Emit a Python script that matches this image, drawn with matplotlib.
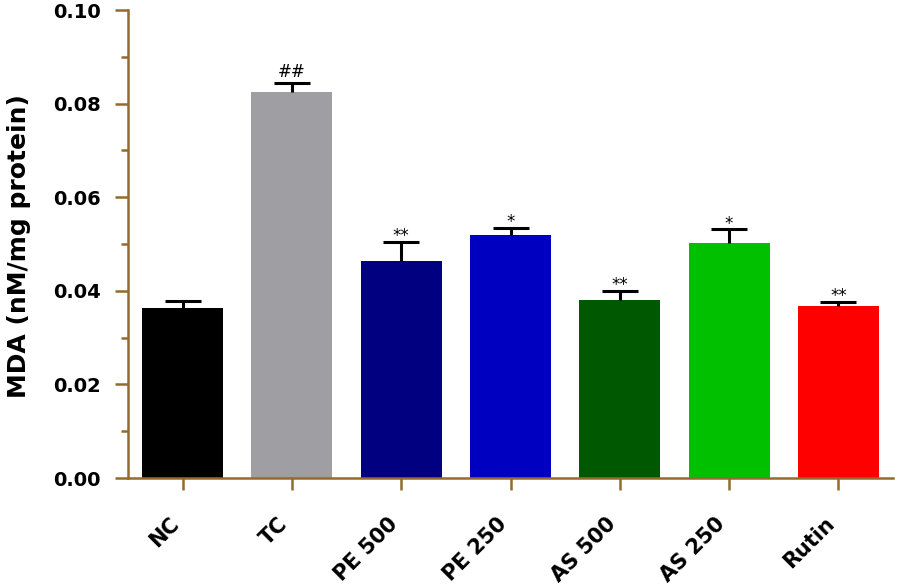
import matplotlib
matplotlib.use('Agg')
import matplotlib.pyplot as plt
import numpy as np
from matplotlib.ticker import MultipleLocator, FormatStrFormatter

# values
groups = ['NC', 'TC', 'PE 500', 'PE 250', 'AS 500', 'AS 250', 'Rutin']
mda = [0.0363, 0.0825, 0.0464, 0.0519, 0.0380, 0.0502, 0.0368]
sem = [0.0015, 0.0018, 0.0040, 0.0015, 0.0020, 0.0029, 0.0008]
marks = ['', '##', '**', '*', '**', '*', '**']
bar_colors = ['#000000', '#9f9fa3', '#000080', '#0000c0', '#005800', '#00c000', '#ff0000']

axis_col = '#936b2d'

fig = plt.figure(figsize=(8.97, 5.84), dpi=100)
ax = fig.add_axes([128 / 897, 106 / 584, 765 / 897, 468 / 584])

x = np.arange(len(groups))
tops = np.array(mda) + np.array(sem)
ax.bar(x, mda, width=0.74, color=bar_colors, zorder=2)
# upper half error bars only
ax.errorbar(x, mda, yerr=[np.zeros(len(sem)), sem], fmt='none', ecolor='black',
            elinewidth=2.2, capsize=0, zorder=3)
ax.plot(x, tops, ls='none', marker='_', ms=26, mew=2.2, color='black', zorder=3)

for xi, yi, mk in zip(x, tops, marks):
    if not mk:
        continue
    off = 5 if mk.startswith('#') else 0.5
    ax.annotate(mk, (xi, yi), xytext=(0, off), textcoords='offset points',
                ha='center', va='baseline', fontsize=12, color='black')

ax.set_xlim(-0.5, len(groups) - 0.5)
ax.set_ylim(0, 0.10)
ax.yaxis.set_major_locator(MultipleLocator(0.02))
ax.yaxis.set_minor_locator(MultipleLocator(0.01))
ax.yaxis.set_major_formatter(FormatStrFormatter('%.2f'))

for s in ['top', 'right']:
    ax.spines[s].set_visible(False)
for s in ['left', 'bottom']:
    ax.spines[s].set_color(axis_col)
    ax.spines[s].set_linewidth(1.8)
    ax.spines[s].set_zorder(4)

ax.tick_params(axis='y', which='major', length=9.5, width=1.8, color=axis_col,
               labelsize=14, pad=10)
ax.tick_params(axis='y', which='minor', length=5, width=1.8, color=axis_col)
ax.tick_params(axis='x', length=8.6, width=1.8, color=axis_col, labelsize=15, pad=17)
for lab in ax.get_yticklabels():
    lab.set_fontweight('bold')

ax.set_xticks(x)
ax.set_xticklabels(groups, rotation=45, ha='right', va='top', fontweight='bold')

ax.set_ylabel('MDA (nM/mg protein)', fontsize=18, fontweight='bold')
ax.yaxis.set_label_coords(-0.127, 0.495)

fig.savefig('out.png', dpi=100)
